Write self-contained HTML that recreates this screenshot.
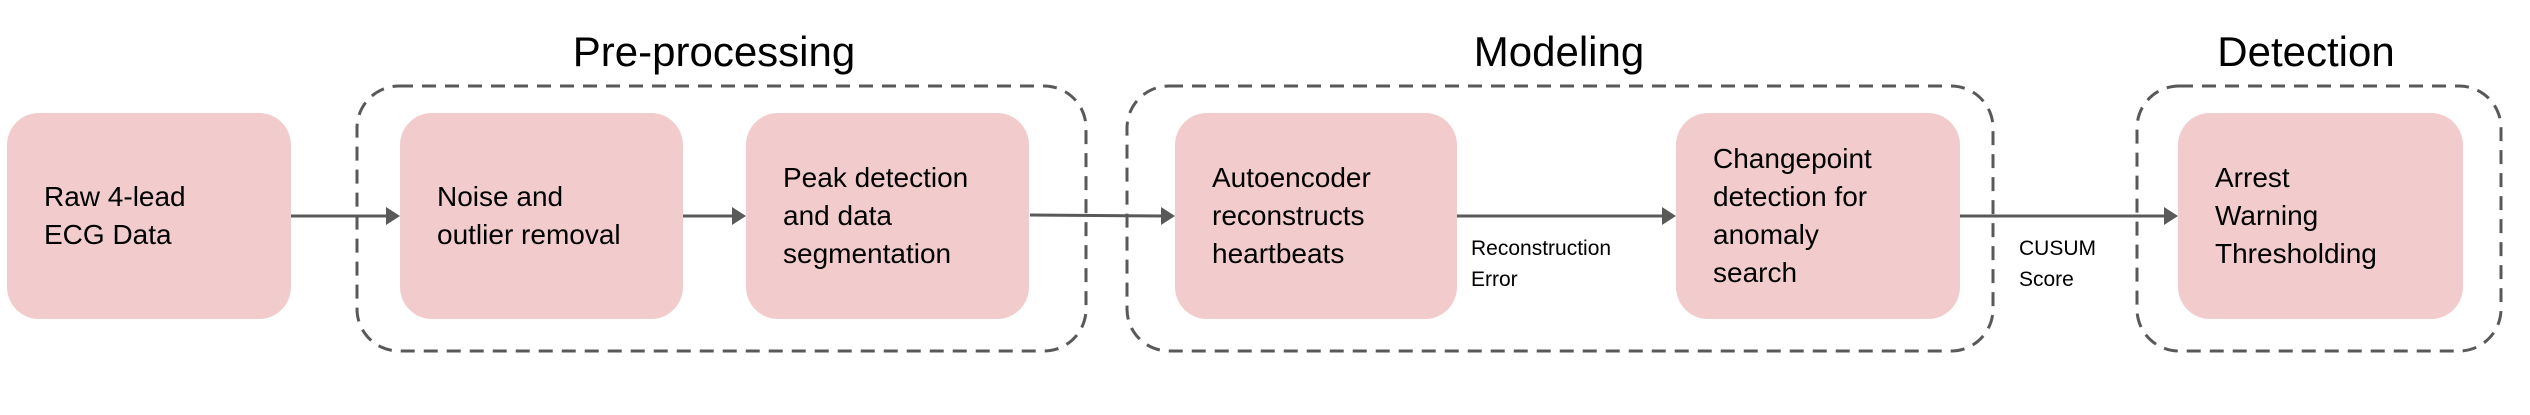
<!DOCTYPE html>
<html><head><style>
body{margin:0;width:2530px;height:415px;background:#fff;position:relative;overflow:hidden;font-family:"Liberation Sans",Arial,sans-serif;}
.b{position:absolute;top:113px;height:206px;background:#f2cccc;border-radius:32px;display:flex;align-items:center;box-sizing:border-box;padding-left:37px;font-size:28px;line-height:38px;color:#000;}
.t{position:absolute;top:28px;font-size:42px;color:#000;transform:translateX(-50%);white-space:nowrap;}
.l{position:absolute;font-size:21px;line-height:31px;color:#000;}
</style></head><body>
<svg width="2530" height="415" style="position:absolute;left:0;top:0">
<g fill="none" stroke="#595959" stroke-width="3" stroke-dasharray="14 9">
<rect x="357" y="86" width="729" height="265" rx="42"/>
<rect x="1127" y="86" width="866" height="265" rx="42"/>
<rect x="2137" y="86" width="364" height="265" rx="42"/>
</g>
<g stroke="#595959" stroke-width="3">
<line x1="291" y1="216" x2="388" y2="216"/>
<line x1="683" y1="216" x2="734" y2="216"/>
<line x1="1030" y1="215" x2="1163" y2="216"/>
<line x1="1457" y1="216" x2="1664" y2="216"/>
<line x1="1960" y1="216" x2="2166" y2="216"/>
</g>
<g fill="#595959">
<polygon points="400,216 386,207 386,225"/>
<polygon points="746,216 732,207 732,225"/>
<polygon points="1175,216 1161,207 1161,225"/>
<polygon points="1676,216 1662,207 1662,225"/>
<polygon points="2178,216 2164,207 2164,225"/>
</g>
</svg>
<div class="t" style="left:714px">Pre-processing</div>
<div class="t" style="left:1559px">Modeling</div>
<div class="t" style="left:2306px">Detection</div>
<div class="b" style="left:7px;width:284px">Raw 4-lead<br>ECG Data</div>
<div class="b" style="left:400px;width:283px">Noise and<br>outlier removal</div>
<div class="b" style="left:746px;width:283px">Peak detection<br>and data<br>segmentation</div>
<div class="b" style="left:1175px;width:282px">Autoencoder<br>reconstructs<br>heartbeats</div>
<div class="b" style="left:1676px;width:284px">Changepoint<br>detection for<br>anomaly<br>search</div>
<div class="b" style="left:2178px;width:285px">Arrest<br>Warning<br>Thresholding</div>
<div class="l" style="left:1471px;top:233px">Reconstruction<br>Error</div>
<div class="l" style="left:2019px;top:233px">CUSUM<br>Score</div>
</body></html>
